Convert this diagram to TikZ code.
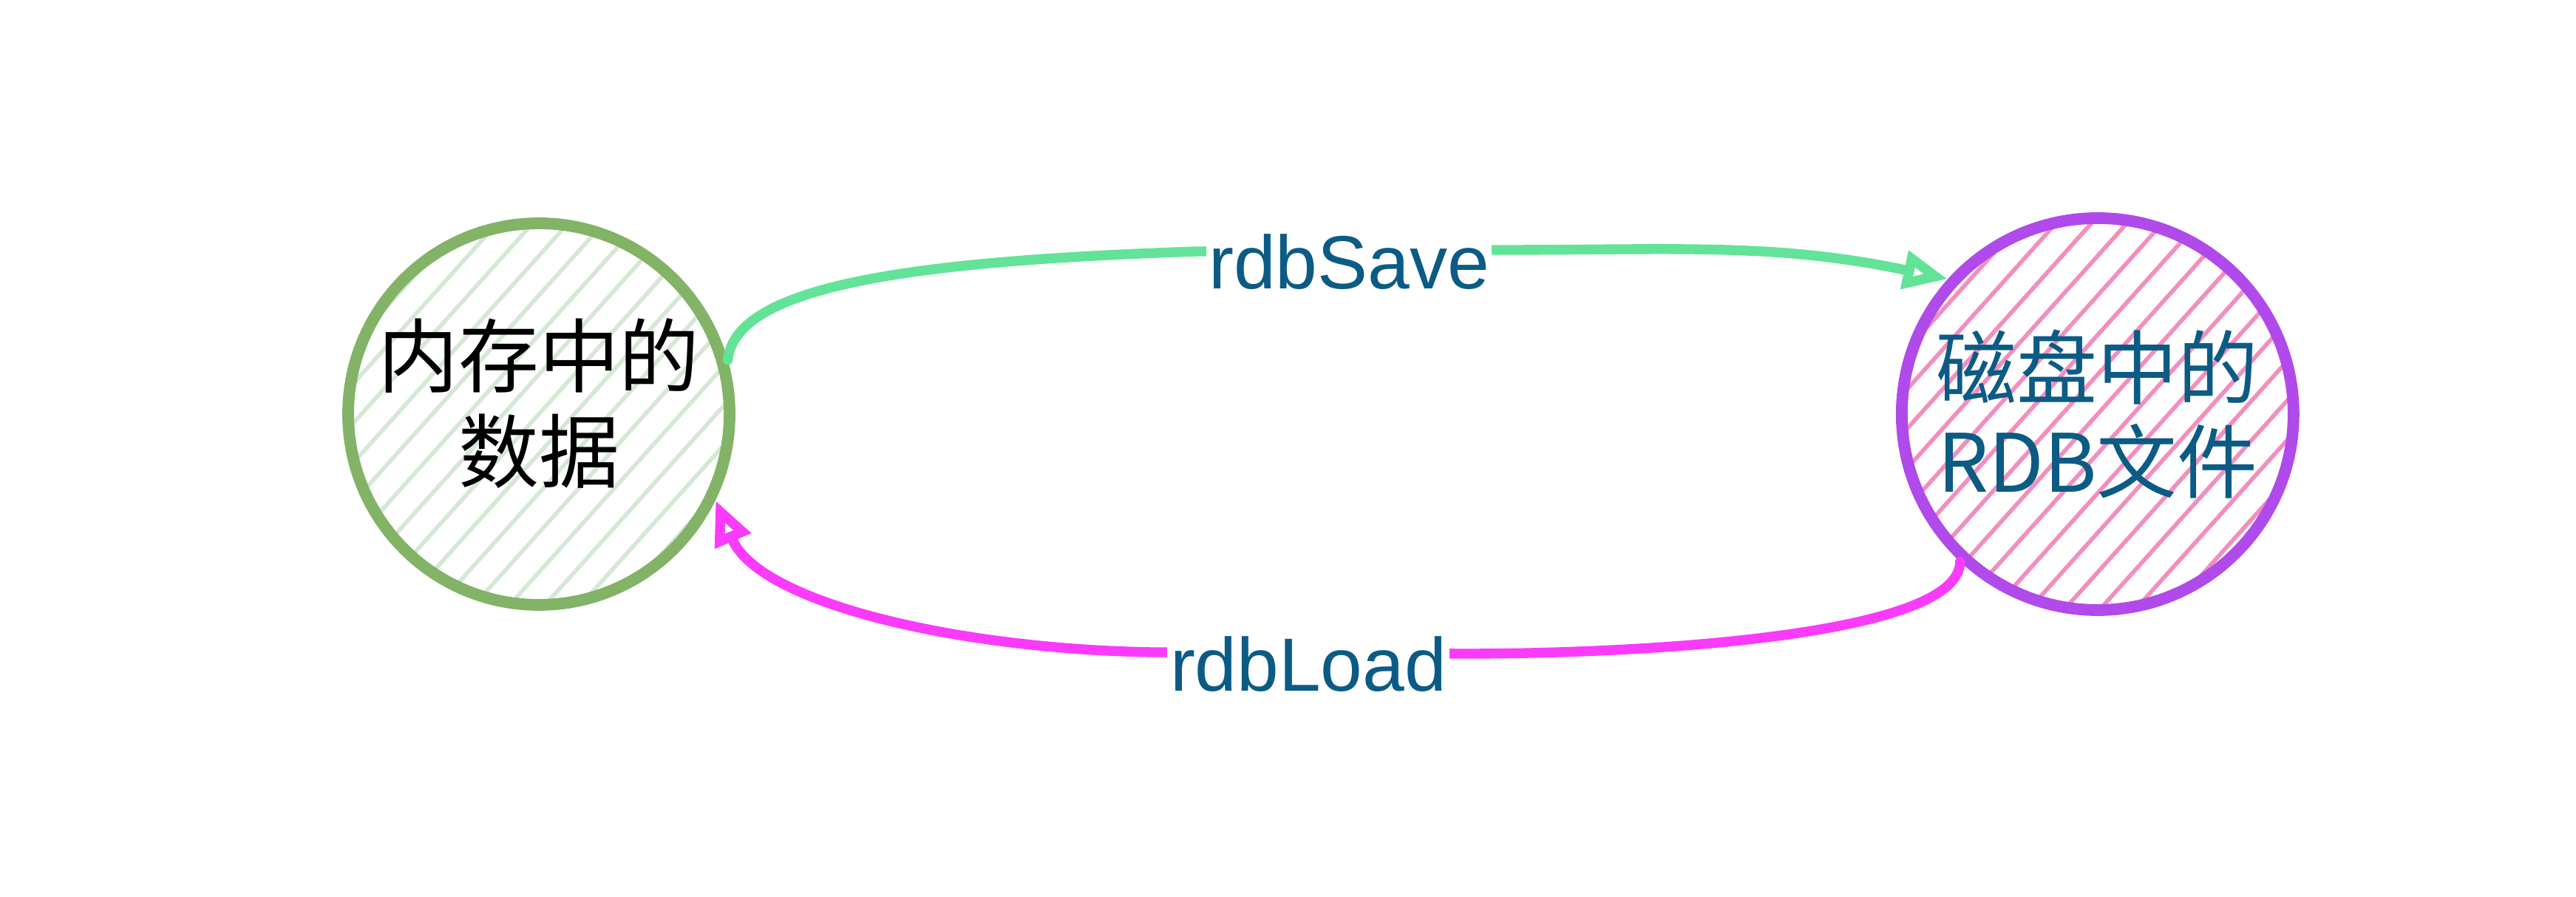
\documentclass[tikz,border=0pt]{standalone}
\usepackage{fontspec}
\setmainfont{Liberation Sans}
\newfontfamily\cjk{Noto Sans CJK SC}
\usepackage{xcolor}
\usetikzlibrary{positioning,arrows.meta}
\definecolor{memline}{HTML}{82B366}
\definecolor{memhatch}{HTML}{D5E8D4}
\definecolor{rdbline}{HTML}{B04AEA}
\definecolor{rdbhatch}{HTML}{F38EBF}
\definecolor{savecol}{HTML}{63E398}
\definecolor{loadcol}{HTML}{FB3BFB}
\definecolor{txtblue}{HTML}{0B5B85}

\begin{document}
\begin{tikzpicture}[
  node distance=15.7cm,
  store/.style={circle, line width=4.5pt, inner sep=-8mm, minimum size=#1, align=center, font=\cjk\fontsize{31}{36}\selectfont},
  hatch/.style={path picture={\foreach \k in {-9,...,9}
      \draw[#1, line width=1.6pt, line cap=round] ([xshift=\k*4.8mm]path picture bounding box.center) ++(-3.5,-3.9) -- ++(7,7.8);}},
  flow/.style={-{Triangle[open,length=6mm,width=5mm]}, line width=3.8pt, line cap=round},
  lbl/.style={fill=white, inner xsep=1pt, inner ysep=3pt, yshift=-1.5mm, text=txtblue, font=\fontsize{29}{31}\selectfont}
]
\useasboundingbox (0,0) rectangle (34.85,12.13);
\node[store=5.16cm, draw=memline, hatch=memhatch] (mem) at (7.29,6.53) {\raisebox{-1.5mm}{\begin{tabular}{@{}c@{}}内存中的\\数据\end{tabular}}};
\node[store=5.3cm, draw=rdbline, hatch=rdbhatch, text=txtblue, right=of mem] (rdb) {磁盘中的\\RDB文件};

\draw[flow, savecol] (mem.16) .. controls +(0.1,1.0) and (12.3,8.6) .. (16.2,8.73)
  -- node[lbl] (savelbl) {rdbSave} (20.3,8.75) to[out=0, in=168] (rdb.138);
\draw[flow, loadcol] (rdb.227) .. controls +(0,-1.0) and +(2.5,0) .. (19.8,3.29)
  -- node[lbl] (loadlbl) {rdbLoad} (15.6,3.31) .. controls (13.0,3.35) and +(0.6,-1.4) .. (mem.334);
\end{tikzpicture}
\end{document}
